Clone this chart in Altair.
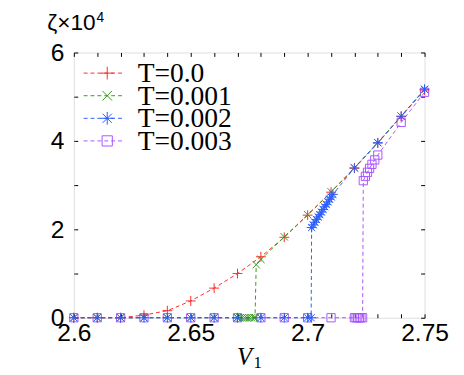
import altair as alt
import pandas as pd

# ---------------- data ----------------
V_T0 = [2.60, 2.61, 2.62, 2.63, 2.64, 2.65, 2.66, 2.67, 2.68, 2.69, 2.70, 2.71, 2.72, 2.73, 2.74, 2.75]
Z_T0 = [0.0, 0.0, 0.0, 0.06, 0.16, 0.38, 0.67, 1.00, 1.38, 1.82, 2.32, 2.84, 3.38, 3.95, 4.55, 5.15]

V_T1 = [2.60, 2.61, 2.62, 2.63, 2.64, 2.65, 2.66, 2.67, 2.671, 2.672, 2.673, 2.674, 2.675, 2.676, 2.677,
        2.6775, 2.678, 2.68, 2.69, 2.70, 2.71, 2.72, 2.73, 2.74, 2.75]
Z_T1 = [0.0, 0.0, 0.0, 0.0, 0.0, 0.0, 0.0, 0.0, 0.0, 0.0, 0.0, 0.0, 0.0, 0.0, 0.0,
        0.0, 1.20, 1.32, 1.83, 2.33, 2.85, 3.39, 3.96, 4.56, 5.16]

V_T2 = [2.60, 2.61, 2.62, 2.63, 2.64, 2.65, 2.66, 2.67, 2.68, 2.69, 2.70, 2.7015,
        2.7017, 2.7024, 2.7031, 2.7038, 2.7045, 2.7052, 2.7059, 2.7066, 2.7073, 2.7080, 2.7087, 2.7094,
        2.7101, 2.7108, 2.72, 2.73, 2.74, 2.75]
Z_T2 = [0.0, 0.0, 0.0, 0.0, 0.0, 0.0, 0.0, 0.0, 0.0, 0.0, 0.0, 0.0,
        2.04, 2.10, 2.16, 2.22, 2.28, 2.33, 2.39, 2.45, 2.51, 2.56, 2.62, 2.68,
        2.73, 2.79, 3.39, 3.96, 4.56, 5.17]

V_T3 = [2.60, 2.61, 2.62, 2.63, 2.64, 2.65, 2.66, 2.67, 2.68, 2.69, 2.70, 2.71, 2.72,
        2.7207, 2.7214, 2.7221, 2.7228, 2.7235,
        2.7238, 2.7247, 2.7256, 2.7265, 2.7275, 2.7287, 2.7300, 2.74, 2.75]
Z_T3 = [0.0, 0.0, 0.0, 0.0, 0.0, 0.0, 0.0, 0.0, 0.0, 0.0, 0.0, 0.0, 0.0,
        0.0, 0.0, 0.0, 0.0, 0.0,
        3.10, 3.20, 3.29, 3.38, 3.47, 3.57, 3.68, 4.42, 5.10]

SERIES = ["T=0.0", "T=0.001", "T=0.002", "T=0.003"]
COLORS = ["#ff2a2a", "#3a9a1e", "#2a5cff", "#a955ff"]

X_LABEL_TICKS = [2.6, 2.65, 2.7, 2.75]
X_MINOR_TICKS = [2.60, 2.61, 2.62, 2.63, 2.64, 2.65, 2.66, 2.67, 2.68, 2.69, 2.70, 2.71, 2.72, 2.73, 2.74, 2.75]
Y_LABEL_TICKS = [0, 2, 4, 6]
Y_MINOR_TICKS = [0, 1, 2, 3, 4, 5, 6]

Y_TITLE = ["ζ×10"]
Y_TITLE_EXP = ["4"]
X_TITLE = ["V"]
X_TITLE_SUB = ["1"]

# ---------------- marker shapes ----------------
PLUS = "M-1,0L1,0M0,-1L0,1"
XMARK = "M-0.75,-0.75L0.75,0.75M-0.75,0.75L0.75,-0.75"
STAR = "M-1,0L1,0M0,-1L0,1M-0.72,-0.72L0.72,0.72M-0.72,0.72L0.72,-0.72"
SQUARE = "M-0.8,-0.8L0.8,-0.8L0.8,0.8L-0.8,0.8Z"
MARKERS = [PLUS, XMARK, STAR, SQUARE]

data_sets = [(V_T0, Z_T0), (V_T1, Z_T1), (V_T2, Z_T2), (V_T3, Z_T3)]

xscale = alt.Scale(domain=[2.6, 2.75], nice=False, zero=False)
yscale = alt.Scale(domain=[0, 6], nice=False)

LABEL_FONT = "Liberation Sans"

ax_x_labels = alt.Axis(orient="bottom", values=X_LABEL_TICKS, format="~g", tickSize=0, domain=False,
                       grid=False, labelFont=LABEL_FONT, labelFontSize=25, labelColor="black",
                       labelPadding=3, labelFlush=False, labelOverlap=False, title=None)
ax_x_bot_ticks = alt.Axis(orient="bottom", values=X_MINOR_TICKS, labels=False, tickSize=4, offset=-4,
                          domain=False, grid=False, tickColor="black", tickWidth=1, title=None)
ax_x_top_ticks = alt.Axis(orient="top", values=X_MINOR_TICKS, labels=False, tickSize=4, offset=-4,
                          domain=False, grid=False, tickColor="black", tickWidth=1, title=None)
ax_y_labels = alt.Axis(orient="left", values=Y_LABEL_TICKS, format="d", tickSize=0, domain=False,
                       grid=False, labelFont=LABEL_FONT, labelFontSize=25, labelColor="black",
                       labelPadding=10, labelFlush=False, labelOverlap=False, title=None)
ax_y_left_ticks = alt.Axis(orient="left", values=Y_MINOR_TICKS, labels=False, tickSize=4, offset=-4,
                           domain=False, grid=False, tickColor="black", tickWidth=1, title=None)
ax_y_right_ticks = alt.Axis(orient="right", values=Y_MINOR_TICKS, labels=False, tickSize=4, offset=-4,
                            domain=False, grid=False, tickColor="black", tickWidth=1, title=None)

x_axes = [ax_x_labels, ax_x_bot_ticks, ax_x_top_ticks]
y_axes = [ax_y_labels, ax_y_left_ticks, ax_y_right_ticks]

draw_order = [3, 0, 1, 2]
layers = []
k = 0
for idx in draw_order:
    vs, zs = data_sets[idx]
    df = pd.DataFrame({"V": vs, "z": zs, "i": list(range(len(vs)))})
    xa = x_axes[k] if k < 3 else None
    ya = y_axes[k] if k < 3 else None
    line = alt.Chart(df).mark_line(strokeDash=[4, 3], strokeWidth=1, color=COLORS[idx]).encode(
        x=alt.X("V:Q", scale=xscale, axis=xa),
        y=alt.Y("z:Q", scale=yscale, axis=ya),
        order=alt.Order("i:Q"),
    )
    k += 1
    pts = alt.Chart(df).mark_point(shape=MARKERS[idx], filled=False, size=100 if idx != 3 else 110,
                                   strokeWidth=1, color=COLORS[idx], opacity=1).encode(
        x=alt.X("V:Q", scale=xscale, axis=None),
        y=alt.Y("z:Q", scale=yscale, axis=None),
    )
    layers += [line, pts]

# ---------------- legend (drawn inside the plot, top-left) ----------------
LEG_TOP = 21      # centre of the first row, px from plot top
LEG_STEP = 23     # row spacing, px
for i, (lab, col, shp) in enumerate(zip(SERIES, COLORS, MARKERS)):
    yc = LEG_TOP + LEG_STEP * i
    one = pd.DataFrame({"t": [lab]})
    seg = alt.Chart(one).mark_rule(strokeDash=[4, 3], strokeWidth=1, color=col).encode(
        x=alt.value(10), x2=alt.value(52), y=alt.value(yc))
    sym = alt.Chart(one).mark_point(shape=shp, filled=False, size=169, strokeWidth=1,
                                    color=col, opacity=1).encode(
        x=alt.value(34), y=alt.value(yc))
    txt = alt.Chart(one).mark_text(font="Liberation Serif", fontSize=28, align="left",
                                   baseline="middle", color="black").encode(
        text="t:N", x=alt.value(65), y=alt.value(yc + 1))
    layers += [seg, sym, txt]

# titles as text
t1 = alt.Chart(pd.DataFrame({"t": Y_TITLE})).mark_text(
    font=LABEL_FONT, fontSize=23, align="left", baseline="alphabetic", color="black").encode(
    text="t:N", x=alt.value(-27), y=alt.value(-23))
t2 = alt.Chart(pd.DataFrame({"t": Y_TITLE_EXP})).mark_text(
    font=LABEL_FONT, fontSize=14, align="left", baseline="alphabetic", color="black").encode(
    text="t:N", x=alt.value(23), y=alt.value(-31))
t3 = alt.Chart(pd.DataFrame({"t": X_TITLE})).mark_text(
    font="Liberation Serif", fontSize=25, fontStyle="italic", align="left", baseline="alphabetic",
    color="black").encode(text="t:N", x=alt.value(166), y=alt.value(318))
t4 = alt.Chart(pd.DataFrame({"t": X_TITLE_SUB})).mark_text(
    font="Liberation Serif", fontSize=17, align="left", baseline="alphabetic", color="black").encode(
    text="t:N", x=alt.value(183), y=alt.value(321))
layers += [t1, t2, t3, t4]

chart = alt.layer(*layers).resolve_axis(x="independent", y="independent").properties(
    width=357, height=270,
    autosize=alt.AutoSizeParams(type="none"),
    padding={"left": 67, "top": 42, "right": 32, "bottom": 55},
).configure_view(stroke="black", strokeWidth=1.2).configure(background="white")

chart.save("out.html", embed_options={"renderer": "svg", "actions": False})
